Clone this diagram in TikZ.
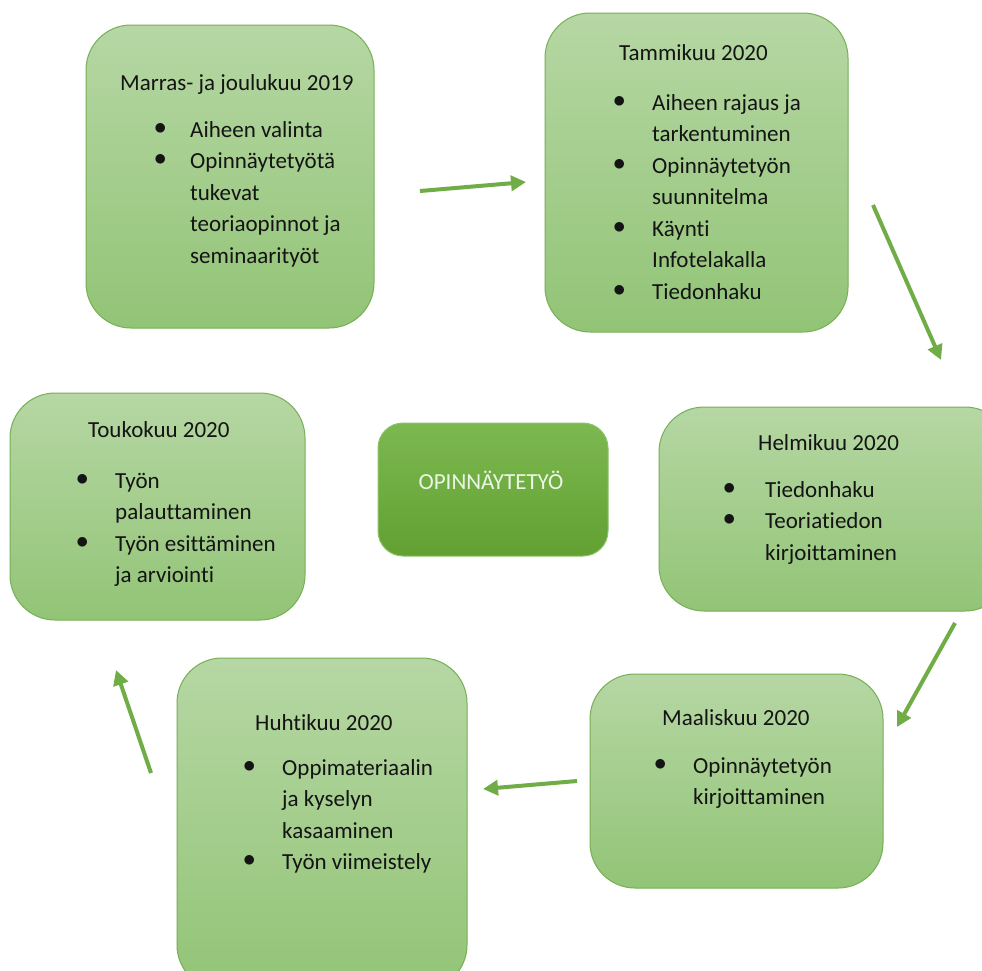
\documentclass[tikz,border=0pt]{standalone}
\usepackage{fontspec}
\setmainfont{Carlito}[Ligatures=NoCommon]
\usetikzlibrary{arrows.meta}
\definecolor{boxtop}{RGB}{182,215,164}
\definecolor{boxbot}{RGB}{146,196,118}
\definecolor{boxline}{RGB}{118,175,84}
\definecolor{ctrtop}{RGB}{124,184,80}
\definecolor{ctrbot}{RGB}{98,160,50}
\definecolor{ctrline}{RGB}{140,195,105}
\definecolor{arrowgreen}{RGB}{112,173,71}
\definecolor{ctrtext}{RGB}{236,246,230}
\definecolor{txtcol}{RGB}{20,20,20}
\newcommand\bul{\raisebox{3pt}{$\bullet$}}
\tikzset{
  phase/.style={draw=boxline, line width=1pt, rounded corners=45pt,
    top color=boxtop, bottom color=boxbot, inner sep=0pt},
  centerbox/.style={draw=ctrline, line width=1pt, rounded corners=25pt,
    top color=ctrtop, bottom color=ctrbot, inner sep=0pt},
  txt/.style={inner sep=0pt, anchor=base west, text=txtcol,
    font=\fontsize{23}{31.5}\selectfont},
  flow/.style={draw=arrowgreen, line width=4pt,
    -{Triangle[length=15pt,width=15pt]}}
}
\begin{document}
\begin{tikzpicture}[x=1pt,y=-1pt]
\clip (0,0) rectangle (982,970);
\fill[white] (0,0) rectangle (982,970);

% boxes
\node[phase, minimum width=288pt, minimum height=303pt] (b1) at (230,176.5) {};
\node[phase, minimum width=303pt, minimum height=319pt] (b2) at (696.5,172.5) {};
\node[phase, minimum width=351pt, minimum height=204pt] (b3) at (834.5,509) {};
\node[phase, minimum width=293pt, minimum height=214pt] (b4) at (736.5,781) {};
\node[phase, minimum width=290pt, minimum height=332pt] (b5) at (322,824) {};
\node[phase, minimum width=295pt, minimum height=227pt] (b6) at (157.5,506.5) {};
\node[centerbox, minimum width=230pt, minimum height=133pt] (c) at (493,489.5) {};

% titles
\node[txt] (t1) at (120,90) {Marras- ja joulukuu 2019};
\node[txt] (t2) at (619,60) {Tammikuu 2020};
\node[txt] (t3) at (758,450) {Helmikuu 2020};
\node[txt] (t4) at (662,725) {Maaliskuu 2020};
\node[txt] (t5) at (255,730) {Huhtikuu 2020};
\node[txt] (t6) at (88,437) {Toukokuu 2020};

% lists
\node[txt] (l1) at (154,137) {\begin{tabular}[t]{@{}p{36pt}@{}l@{}}
\bul & Aiheen valinta\\
\bul & Opinnäytetyötä\\
 & tukevat\\
 & teoriaopinnot ja\\
 & seminaarityöt\end{tabular}};
\node[txt] (l2) at (613,110) {\begin{tabular}[t]{@{}p{39pt}@{}l@{}}
\bul & Aiheen rajaus ja\\
 & tarkentuminen\\
\bul & Opinnäytetyön\\
 & suunnitelma\\
\bul & Käynti\\
 & Infotelakalla\\
\bul & Tiedonhaku\end{tabular}};
\node[txt] (l3) at (723,497) {\begin{tabular}[t]{@{}p{42pt}@{}l@{}}
\bul & Tiedonhaku\\
\bul & Teoriatiedon\\
 & kirjoittaminen\end{tabular}};
\node[txt] (l4) at (654,773) {\begin{tabular}[t]{@{}p{39pt}@{}l@{}}
\bul & Opinnäytetyön\\
 & kirjoittaminen\end{tabular}};
\node[txt] (l5) at (243,775) {\begin{tabular}[t]{@{}p{39pt}@{}l@{}}
\bul & Oppimateriaalin\\
 & ja kyselyn\\
 & kasaaminen\\
\bul & Työn viimeistely\end{tabular}};
\node[txt] (l6) at (76,488) {\begin{tabular}[t]{@{}p{39pt}@{}l@{}}
\bul & Työn\\
 & palauttaminen\\
\bul & Työn esittäminen\\
 & ja arviointi\end{tabular}};

% center label
\node[inner sep=0pt, anchor=base, text=ctrtext, font=\fontsize{23}{27}\selectfont] (ct) at (491,489) {OPINNÄYTETYÖ};

% arrow ends
\coordinate (a1s) at (420,191); \coordinate (a1e) at (526,182);
\coordinate (a2s) at (873,205); \coordinate (a2e) at (941,360);
\coordinate (a3s) at (955,623); \coordinate (a3e) at (897,727);
\coordinate (a4s) at (577,781); \coordinate (a4e) at (483,789);
\coordinate (a5s) at (151,773); \coordinate (a5e) at (116,670);
\draw[flow] (a1s) -- (a1e);
\draw[flow] (a2s) -- (a2e);
\draw[flow] (a3s) -- (a3e);
\draw[flow] (a4s) -- (a4e);
\draw[flow] (a5s) -- (a5e);
\end{tikzpicture}
\end{document}
